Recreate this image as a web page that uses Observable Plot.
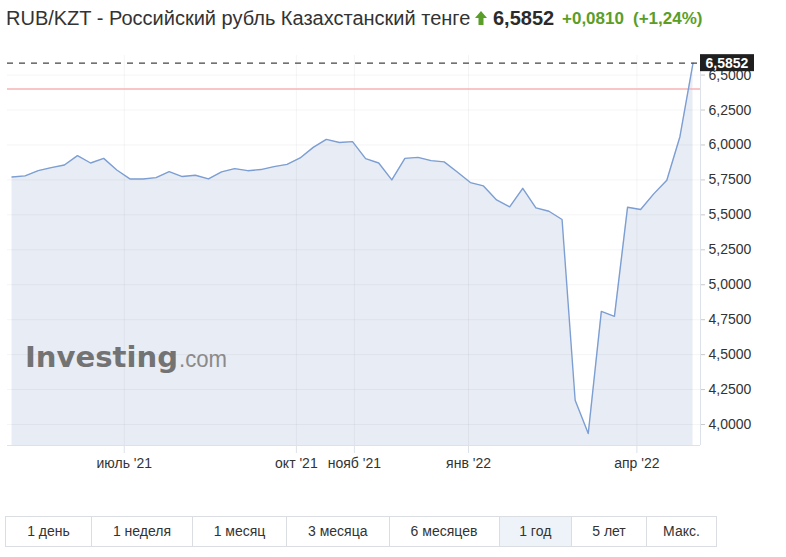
<!DOCTYPE html>
<html><head><meta charset="utf-8">
<script src="https://cdn.jsdelivr.net/npm/d3@7"></script>
<script src="https://cdn.jsdelivr.net/npm/@observablehq/plot@0.6"></script>
<style>
html,body{margin:0;padding:0;background:#fff;}
body{width:786px;height:557px;overflow:hidden;position:relative;font-family:"Liberation Sans",Arial,sans-serif;color:#333;}
#title{position:relative;height:40px;font-size:20px;line-height:20px;white-space:nowrap;}
#title span{position:absolute;top:8px;}
#title .num{font-weight:bold;color:#2b2b2b;}
#title .chg{font-weight:bold;color:#5a9e2a;font-size:17px;top:9px;}
#arrow{position:absolute;left:475px;top:11px;}
#chart svg{display:block;}
#buttons{position:absolute;left:5px;top:516px;height:31px;display:flex;border:1px solid #dadde2;box-sizing:border-box;}
#buttons div{box-sizing:border-box;height:29px;line-height:29px;text-align:center;font-size:14px;color:#333;border-left:1px solid #dadde2;}
#buttons div:first-child{border-left:none;}
#buttons div.sel{background:#eef3fa;}
</style>
</head><body>
<div id="title"></div>
<div id="chart"></div>
<div id="buttons"></div>
<script>
// ---- data ----
const dates = ["2021-05-02","2021-05-09","2021-05-16","2021-05-23","2021-05-30","2021-06-06","2021-06-13","2021-06-20","2021-06-27",
"2021-07-04","2021-07-11","2021-07-18","2021-07-25","2021-08-01","2021-08-08","2021-08-15","2021-08-22","2021-08-29",
"2021-09-05","2021-09-12","2021-09-19","2021-09-26","2021-10-03","2021-10-10","2021-10-17","2021-10-24","2021-10-31",
"2021-11-07","2021-11-14","2021-11-21","2021-11-28","2021-12-05","2021-12-12","2021-12-19","2021-12-26",
"2022-01-02","2022-01-09","2022-01-16","2022-01-23","2022-01-30","2022-02-06","2022-02-13","2022-02-20","2022-02-27",
"2022-03-06","2022-03-13","2022-03-20","2022-03-27","2022-04-03","2022-04-10","2022-04-17","2022-04-24","2022-05-01"];
const rates = [5.771,5.779,5.816,5.838,5.857,5.924,5.871,5.904,5.821,
5.757,5.757,5.766,5.809,5.774,5.783,5.757,5.807,5.831,
5.816,5.824,5.845,5.861,5.907,5.983,6.040,6.018,6.024,
5.902,5.871,5.750,5.904,5.911,5.888,5.879,5.807,
5.731,5.707,5.607,5.557,5.690,5.550,5.526,5.467,4.174,
3.936,4.809,4.774,5.554,5.538,5.650,5.748,6.059,6.5852];
const lastValue = 6.5852;
const lastLabel = "6,5852";
const refValue = 6.40;
const yTicks = [4.0,4.25,4.5,4.75,5.0,5.25,5.5,5.75,6.0,6.25,6.5];
const xTickDates = ["2021-07-01","2021-10-01","2021-11-01","2022-01-01","2022-04-01"];
const xTickLabels = ["июль '21","окт '21","нояб '21","янв '22","апр '22"];
const titleText = "RUB/KZT - Российский рубль Казахстанский тенге";
const priceText = "6,5852";
const changeText = "+0,0810";
const changePctText = "(+1,24%)";
const watermarkMain = "Investing";
const watermarkSuffix = ".com";
const rangeLabels = ["1 день","1 неделя","1 месяц","3 месяца","6 месяцев","1 год","5 лет","Макс."];
const selectedRange = "1 год";

// ---- header ----
const title = document.getElementById("title");
title.innerHTML =
  `<span style="left:6px">${titleText}</span>` +
  `<svg id="arrow" width="12" height="14" viewBox="0 0 12 14"><polygon points="6,0 12,7 8.5,7 8.5,14 3.5,14 3.5,7 0,7" fill="#5a9e2a"/></svg>` +
  `<span class="num" style="left:493px">${priceText}</span>` +
  `<span class="chg" style="left:562px">${changeText}</span>` +
  `<span class="chg" style="left:633px">${changePctText}</span>`;

// ---- chart ----
const parse = d3.utcParse("%Y-%m-%d");
const data = dates.map((d, i) => ({date: parse(d), rate: rates[i]}));
const yMin = 3.85, yMax = 6.64;
const xStart = new Date(Date.UTC(2021, 3, 29, 14));
const xEnd = new Date(Date.UTC(2022, 4, 5));
const tickDates = xTickDates.map(parse);
const fmtY = d => d3.format(".4f")(d).replace(".", ",");
const fmtX = d => { const i = tickDates.findIndex(t => +t === +d); return i >= 0 ? xTickLabels[i] : ""; };

function priceBox(index, scales, values, dimensions) {
  const y = scales.y(lastValue);
  const x0 = dimensions.width - dimensions.marginRight;
  const g = d3.create("svg:g");
  g.append("rect").attr("x", x0).attr("y", y - 8.5).attr("width", 54).attr("height", 17).attr("fill", "#1f1f1f");
  g.append("text").attr("x", x0 + 27).attr("y", y).attr("dy", "0.35em").attr("text-anchor", "middle")
    .attr("fill", "#fff").attr("font-weight", "bold").attr("font-size", 14).text(lastLabel);
  return g.node();
}
function watermark(index, scales, values, dimensions) {
  const g = d3.create("svg:g").attr("text-anchor", "start");
  g.append("text").attr("x", 25).attr("y", 327).attr("font-family", "DejaVu Sans").attr("font-weight", "bold")
    .attr("font-size", 28).attr("fill", "#737373").attr("textLength", 153).attr("lengthAdjust", "spacingAndGlyphs").text(watermarkMain);
  g.append("text").attr("x", 179).attr("y", 327).attr("font-family", "Liberation Sans")
    .attr("font-size", 24).attr("fill", "#8a8a8a").attr("textLength", 48).attr("lengthAdjust", "spacingAndGlyphs").text(watermarkSuffix);
  return g.node();
}

const chart = Plot.plot({
  width: 786,
  height: 470,
  marginLeft: 7,
  marginRight: 86,
  marginTop: 15,
  marginBottom: 65,
  style: {fontSize: "14px", fontFamily: "'Liberation Sans', Arial, sans-serif", color: "#333", background: "transparent"},
  x: {type: "utc", domain: [xStart, xEnd]},
  y: {domain: [yMin, yMax]},
  marks: [
    Plot.areaY(data, {x: "date", y1: yMin, y2: "rate", fill: "#e8ecf5"}),
    Plot.ruleY(yTicks, {stroke: "#000", strokeOpacity: 0.045}),
    Plot.ruleX(tickDates, {stroke: "#000", strokeOpacity: 0.045}),
    watermark,
    Plot.ruleY([yMin], {stroke: "#dde2ea"}),
    Plot.ruleX([xEnd], {stroke: "#dde2ea"}),
    Plot.ruleY([refValue], {stroke: "#f6b3b3", strokeWidth: 1.5}),
    Plot.lineY(data, {x: "date", y: "rate", stroke: "#7c9ed2", strokeWidth: 1.4}),
    Plot.ruleY([lastValue], {x1: xStart, x2: xEnd, stroke: "#444", strokeWidth: 1.2, strokeDasharray: "6,6"}),
    Plot.axisY({anchor: "right", ticks: yTicks, tickFormat: fmtY, tickSize: 4, tickPadding: 4, stroke: "#c9c9c9", fill: "#333", fontSize: 14, label: null}),
    Plot.axisX({ticks: tickDates, tickFormat: fmtX, tickSize: 8, tickPadding: 5, stroke: "#dde2ea", fill: "#333", fontSize: 14, label: null}),
    priceBox
  ]
});
document.getElementById("chart").appendChild(chart);

// ---- range buttons ----
const widths = [85, 101, 94, 102.5, 110, 72.5, 75, 70];
const btns = document.getElementById("buttons");
rangeLabels.forEach((t, i) => {
  const d = document.createElement("div");
  d.textContent = t;
  d.style.width = widths[i] + "px";
  if (t === selectedRange) d.className = "sel";
  btns.appendChild(d);
});
</script>
</body></html>
